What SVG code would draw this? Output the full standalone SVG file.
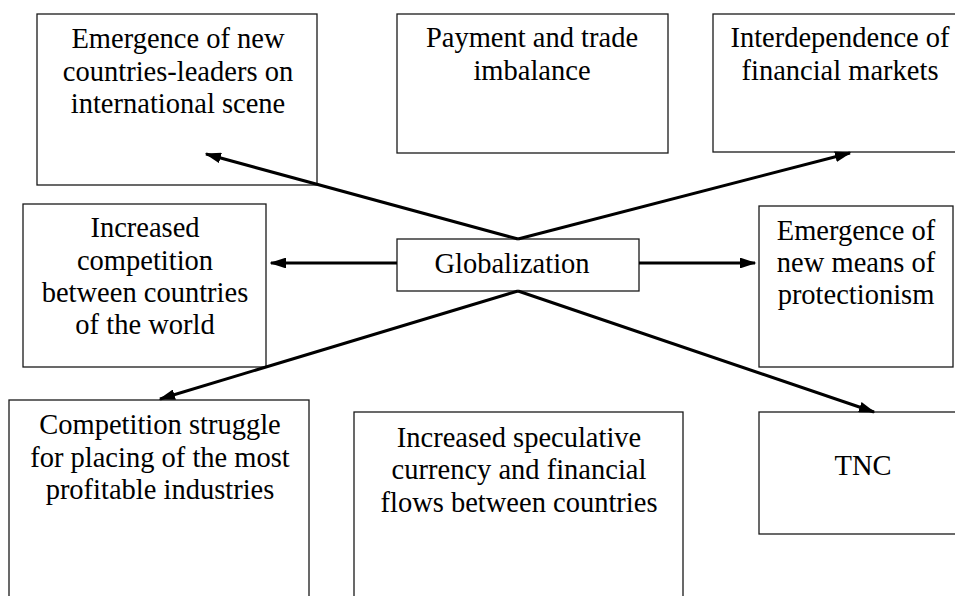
<svg xmlns="http://www.w3.org/2000/svg" width="955" height="596" viewBox="0 0 955 596">
<style>
.box{fill:#fff;stroke:#1a1a1a;stroke-width:1.3}
.t{font-family:"Liberation Serif","Times New Roman",serif;font-size:28.5px;fill:#000;text-anchor:middle}
.c{stroke:#000;stroke-width:3;fill:none;marker-end:url(#ah)}
</style>
<defs>
<marker id="ah" markerWidth="5.5" markerHeight="3.6" refX="5" refY="1.8" orient="auto" markerUnits="strokeWidth">
<path d="M0,0 L5.5,1.8 L0,3.6 Z" fill="#000"/>
</marker>
</defs>
<rect width="955" height="596" fill="#fff"/>
<g id="n1"><rect class="box" x="37" y="14" width="280" height="171"/>
<text class="t" x="178" y="48">Emergence of new</text>
<text class="t" x="178" y="81">countries-leaders on</text>
<text class="t" x="178" y="113">international scene</text></g>
<g id="n2"><rect class="box" x="397" y="14" width="271" height="139"/>
<text class="t" x="532" y="47">Payment and trade</text>
<text class="t" x="532" y="80">imbalance</text></g>
<g id="n3"><rect class="box" x="713" y="14" width="250" height="138"/>
<text class="t" x="840" y="47">Interdependence of</text>
<text class="t" x="840" y="80">financial markets</text></g>
<g id="n4"><rect class="box" x="23" y="204" width="243" height="163"/>
<text class="t" x="145" y="237">Increased</text>
<text class="t" x="145" y="270">competition</text>
<text class="t" x="145" y="302">between countries</text>
<text class="t" x="145" y="334">of the world</text></g>
<g id="n5"><rect class="box" x="397" y="239" width="242" height="52"/>
<text class="t" x="512" y="273">Globalization</text></g>
<g id="n6"><rect class="box" x="759" y="206" width="194" height="161"/>
<text class="t" x="856" y="240">Emergence of</text>
<text class="t" x="856" y="272">new means of</text>
<text class="t" x="856" y="304">protectionism</text></g>
<g id="n7"><rect class="box" x="9" y="400" width="300" height="210"/>
<text class="t" x="160" y="434">Competition struggle</text>
<text class="t" x="160" y="467">for placing of the most</text>
<text class="t" x="160" y="499">profitable industries</text></g>
<g id="n8"><rect class="box" x="354" y="412" width="329" height="198"/>
<text class="t" x="519" y="447">Increased speculative</text>
<text class="t" x="519" y="479">currency and financial</text>
<text class="t" x="519" y="512">flows between countries</text></g>
<g id="n9"><rect class="box" x="759" y="412" width="210" height="122"/>
<text class="t" x="863" y="475">TNC</text></g>
<g id="connectors">
<line class="c" x1="518" y1="239" x2="206" y2="154"/>
<line class="c" x1="518" y1="239" x2="850" y2="153"/>
<line class="c" x1="397" y1="263" x2="271" y2="263"/>
<line class="c" x1="639" y1="263" x2="755" y2="263"/>
<line class="c" x1="518" y1="291" x2="160" y2="399"/>
<line class="c" x1="518" y1="291" x2="874" y2="412"/>
</g>
</svg>
